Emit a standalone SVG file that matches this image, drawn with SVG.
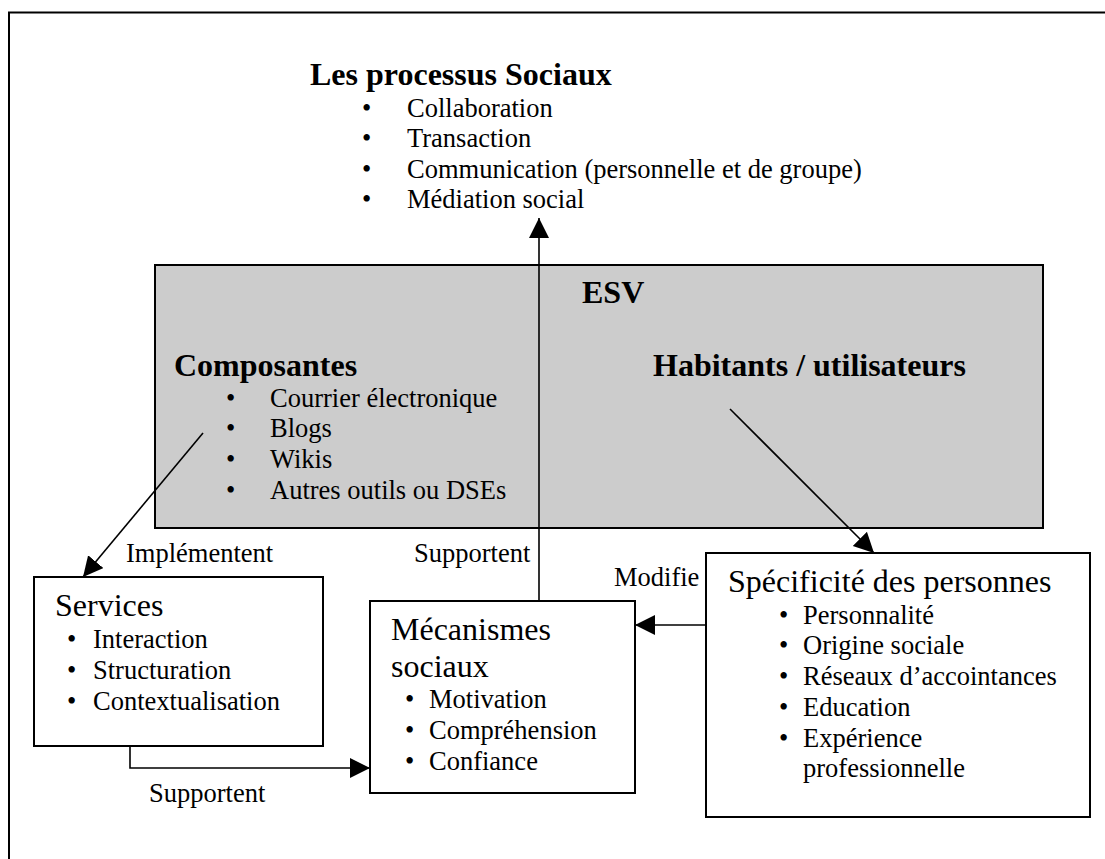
<svg xmlns="http://www.w3.org/2000/svg" width="1105" height="859" viewBox="0 0 1105 859">
<style>
text{font-family:"Liberation Serif","Times New Roman",serif;fill:#000}
.b{font-weight:bold;font-size:32px}
.t{font-size:26.5px}
.h{font-size:32px}
.box{fill:#fff;stroke:#000;stroke-width:2}
.con{fill:none;stroke:#000;stroke-width:1.6}
</style>
<defs>
<marker id="ah" markerWidth="22" markerHeight="22" refX="20" refY="10" orient="auto" markerUnits="userSpaceOnUse"><path d="M0,0 L20,10 L0,20 z" fill="#000"/></marker>
</defs>
<rect width="1105" height="859" fill="#fff"/>
<rect x="9" y="12.5" width="1120" height="870" fill="none" stroke="#000" stroke-width="2"/>

<g id="processus">
<text class="b" x="310" y="85">Les processus Sociaux</text>
<text class="t" x="362" y="117">•</text><text class="t" x="407" y="117">Collaboration</text>
<text class="t" x="362" y="147">•</text><text class="t" x="407" y="147">Transaction</text>
<text class="t" x="362" y="178">•</text><text class="t" x="407" y="178">Communication (personnelle et de groupe)</text>
<text class="t" x="362" y="208">•</text><text class="t" x="407" y="208">Médiation social</text>
</g>

<g id="esv">
<rect x="155" y="265" width="888" height="263" fill="#cccccc" stroke="#000" stroke-width="2"/>
<text class="b" x="582" y="303">ESV</text>
<text class="b" x="174" y="376">Composantes</text>
<text class="t" x="226" y="407">•</text><text class="t" x="270" y="407">Courrier électronique</text>
<text class="t" x="226" y="437">•</text><text class="t" x="270" y="437">Blogs</text>
<text class="t" x="226" y="468">•</text><text class="t" x="270" y="468">Wikis</text>
<text class="t" x="226" y="499">•</text><text class="t" x="270" y="499">Autres outils ou DSEs</text>
<text class="b" x="653" y="376">Habitants / utilisateurs</text>
</g>

<g id="services">
<rect class="box" x="34" y="577" width="289" height="169"/>
<text class="h" x="55" y="616">Services</text>
<text class="t" x="67" y="648">•</text><text class="t" x="93" y="648">Interaction</text>
<text class="t" x="67" y="679">•</text><text class="t" x="93" y="679">Structuration</text>
<text class="t" x="67" y="710">•</text><text class="t" x="93" y="710">Contextualisation</text>
</g>

<g id="mecanismes">
<rect class="box" x="370" y="601" width="265" height="192"/>
<text class="h" x="391" y="640">Mécanismes</text>
<text class="h" x="391" y="677">sociaux</text>
<text class="t" x="405" y="708">•</text><text class="t" x="429" y="708">Motivation</text>
<text class="t" x="405" y="739">•</text><text class="t" x="429" y="739">Compréhension</text>
<text class="t" x="405" y="770">•</text><text class="t" x="429" y="770">Confiance</text>
</g>

<g id="specificite">
<rect class="box" x="706" y="553" width="384" height="264"/>
<text class="h" x="728" y="592">Spécificité des personnes</text>
<text class="t" x="779" y="624">•</text><text class="t" x="803" y="624">Personnalité</text>
<text class="t" x="779" y="654">•</text><text class="t" x="803" y="654">Origine sociale</text>
<text class="t" x="779" y="685">•</text><text class="t" x="803" y="685">Réseaux d’accointances</text>
<text class="t" x="779" y="716">•</text><text class="t" x="803" y="716">Education</text>
<text class="t" x="779" y="747">•</text><text class="t" x="803" y="747">Expérience</text>
<text class="t" x="803" y="777">professionnelle</text>
</g>

<g id="connectors">
<line class="con" x1="539" y1="601" x2="539" y2="218" marker-end="url(#ah)"/>
<line class="con" x1="203" y1="433" x2="83" y2="577" marker-end="url(#ah)"/>
<line class="con" x1="730" y1="409" x2="874" y2="553" marker-end="url(#ah)"/>
<polyline class="con" points="130,746 130,768 370,768" marker-end="url(#ah)"/>
<line class="con" x1="706" y1="625" x2="635" y2="625" marker-end="url(#ah)"/>
<text class="t" x="126" y="562">Implémentent</text>
<text class="t" x="414" y="562">Supportent</text>
<text class="t" x="149" y="802">Supportent</text>
<text class="t" x="614" y="586">Modifie</text>
</g>
</svg>
